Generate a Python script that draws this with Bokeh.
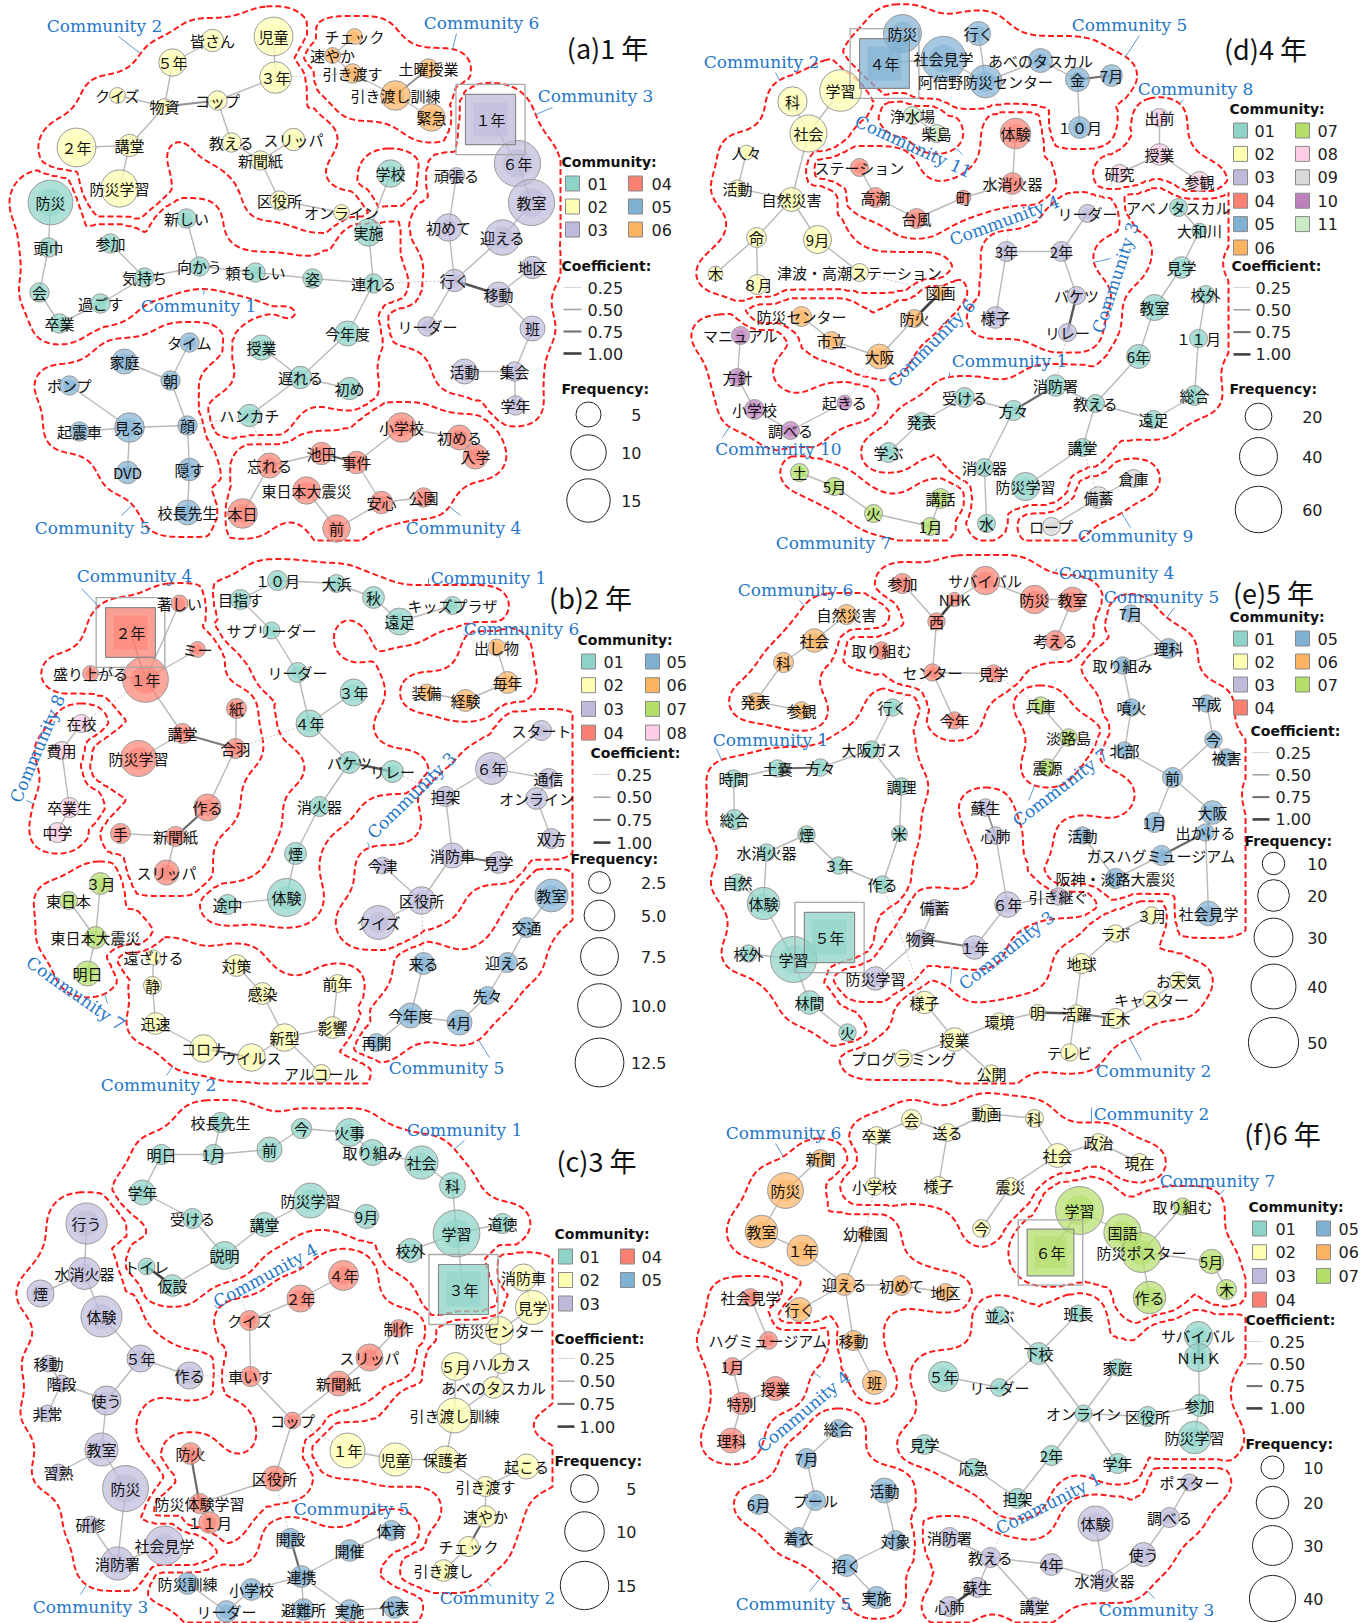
import math
import numpy as np
import contourpy
from bokeh.plotting import figure
from bokeh.models import Range1d, ColumnDataSource
from bokeh.embed import file_html
from bokeh.resources import INLINE
from bokeh.core.properties import value

W, H = 1369, 1623
COMMUNITY_COLORS = ["#8DD3C7", "#FFFFB3", "#BEBADA", "#FB8072", "#80B1D3", "#FDB462",
                    "#B3DE69", "#FCCDE5", "#D9D9D9", "#BC80BD", "#CCEBC5"]
COEF_TICKS = [0.25, 0.50, 0.75, 1.00]

# ================= (a) 1年 =================
A_NODES = [("児童",2,12),("皆さん",2,4),("５年",2,6),("３年",2,8),("クイズ",2,2),("物資",2,2),("コップ",2,3),
           ("２年",2,12),("講堂",2,4),("教える",2,3),("スリッパ",2,4),("新聞紙",2,3),("防災学習",2,11),("区役所",2,3),("オンライン",2,2),
           ("チェック",6,2),("速やか",6,2),("引き渡す",6,3),("土曜授業",6,3),("引き渡し訓練",6,7),("緊急",6,6),
           ("１年",3,20),("６年",3,17),("教室",3,17),("頑張る",3,2),("初めて",3,6),("迎える",3,10),("地区",3,4),("行く",3,4),
           ("移動",3,5),("リーダー",3,3),("班",3,5),("活動",3,5),("集会",3,3),("学年",3,3),
           ("防災",1,16),("頭巾",1,3),("参加",1,3),("新しい",1,3),("学校",1,6),("実施",1,6),("気持ち",1,3),("向かう",1,3),
           ("頼もしい",1,3),("姿",1,3),("連れる",1,3),("会",1,3),("過ごす",1,3),("卒業",1,3),("今年度",1,5),("授業",1,5),
           ("遅れる",1,4),("初め",1,4),("ハンカチ",1,4),
           ("タイム",5,3),("家庭",5,5),("朝",5,3),("ポンプ",5,3),("見る",5,7),("顔",5,3),("起震車",5,3),("DVD",5,4),("隠す",5,4),("校長先生",5,5),
           ("小学校",4,7),("初める",4,5),("入学",4,5),("池田",4,4),("事件",4,4),("忘れる",4,5),("東日本大震災",4,6),("安心",4,4),
           ("公園",4,3),("本日",4,7),("前",4,6)]
A_XY = [(273,36),(212,40),(172,62),(275,77),(117,95),(164,106),(217,100),(76,147),(129,145),(231,142),(293,139),(260,160),
        (119,188),(279,200),(341,212),
        (354,36),(332,55),(352,73),(428,68),(395,95),(431,117),
        (490,119),(517,163),(531,202),(456,175),(448,227),(502,237),(532,267),(454,280),(498,294),(427,326),(532,328),
        (464,371),(514,371),(515,405),
        (50,202),(48,247),(110,243),(186,218),(390,173),(368,232),(144,277),(199,266),(255,272),(312,278),(373,283),
        (39,292),(100,303),(59,323),(347,333),(261,347),(300,377),(349,388),(249,415),
        (189,342),(124,361),(170,380),(69,385),(129,427),(187,425),(79,431),(127,472),(189,469),(187,512),
        (401,427),(459,437),(475,456),(321,453),(356,462),(269,465),(306,490),(381,502),(423,497),(242,513),(336,528)]
A_EDGES = [("皆さん","５年"),("児童","３年"),("５年","物資"),("クイズ","物資"),("物資","コップ",0.6),("コップ","３年"),
           ("コップ","教える"),("教える","新聞紙"),("スリッパ","新聞紙"),("新聞紙","区役所"),("区役所","オンライン"),
           ("物資","講堂"),("２年","講堂"),("講堂","防災学習"),
           ("チェック","速やか"),("速やか","引き渡す"),("引き渡す","引き渡し訓練"),("土曜授業","引き渡し訓練",0.6),("引き渡し訓練","緊急"),
           ("１年","６年"),("６年","教室"),("教室","迎える"),("迎える","行く"),("頑張る","初めて"),("初めて","行く"),
           ("行く","移動",0.9),("移動","地区"),("行く","リーダー"),("移動","班"),("班","集会"),("活動","集会"),("集会","学年"),
           ("防災","頭巾"),("頭巾","会"),("会","卒業"),("卒業","過ごす"),("過ごす","気持ち"),("参加","気持ち"),("気持ち","向かう"),
           ("新しい","向かう"),("向かう","頼もしい"),("頼もしい","姿"),("姿","連れる"),("学校","実施"),("実施","連れる"),
           ("連れる","今年度"),("今年度","遅れる"),("授業","遅れる"),("遅れる","初め"),("遅れる","ハンカチ"),
           ("タイム","朝"),("家庭","朝"),("朝","顔"),("ポンプ","見る"),("起震車","見る"),("見る","顔"),("見る","DVD"),
           ("顔","隠す"),("隠す","校長先生"),
           ("小学校","初める"),("初める","入学"),("小学校","事件"),("池田","事件",0.8),("忘れる","池田"),("事件","安心"),
           ("安心","公園"),("安心","前"),("前","東日本大震災"),("忘れる","本日"),
           ("３年","引き渡す"),("オンライン","実施"),("連れる","行く"),("顔","ハンカチ"),("ハンカチ","忘れる")]
A_FOCUS = "１年"
A_CLABELS = [("Community 2",2),("Community 6",6),("Community 3",3),("Community 1",1),("Community 5",5),("Community 4",4)]
A_CLPOS = [(104,25,0,118,36),(481,22,0,456,33),(595,95,0,552,107),(198,305,0,203,294),(92,527,0,121,515),(463,527,0,460,515)]
A_FREQ_TICKS = [5, 10, 15]

# ================= (d) 4年 =================
D_NODES = [("防災",5,40),("行く",5,16),("４年",5,69),("社会見学",5,55),("阿倍野防災センター",5,30),("あべのタスカル",5,16),
           ("金",5,16),("7月",5,13),("１０月",5,13),
           ("学習",2,48),("科",2,24),("社会",2,38),("人々",2,6),("活動",2,8),("自然災害",2,16),("命",2,11),("9月",2,22),
           ("木",2,6),("８月",2,11),("津波・高潮ステーション",2,9),
           ("浄水場",11,9),("柴島",11,9),
           ("体験",4,26),("水消火器",4,13),("町",4,6),("台風",4,11),("高潮",4,11),("ステーション",4,9),
           ("出前",8,9),("授業",8,13),("研究",8,9),("参観",8,11),
           ("リーダー",3,9),("3年",3,11),("2年",3,11),("様子",3,13),("バケツ",3,9),("リレー",3,9),
           ("アベノタスカル",1,9),("大和川",1,6),("見学",1,13),("教室",1,19),("校外",1,9),("１１月",1,9),("6年",1,16),
           ("総合",1,11),("消防署",1,13),("教える",1,9),("遠足",1,9),("受ける",1,11),("方々",1,11),("発表",1,9),("学ぶ",1,11),
           ("講堂",1,9),("消火器",1,9),("防災学習",1,22),("水",1,9),
           ("倉庫",9,9),("備蓄",9,13),("ロープ",9,9),
           ("土",7,9),("5月",7,9),("火",7,9),("講話",7,11),("1月",7,9),
           ("図画",6,6),("防災センター",6,11),("防火",6,9),("市立",6,9),("大阪",6,17),
           ("マニュアル",10,9),("方針",10,9),("小学校",10,11),("起きる",10,6),("調べる",10,9)]
D_XY = [(902,33),(978,33),(884,63),(943,58),(985,81),(1040,60),(1077,79),(1111,75),(1079,127),
        (840,90),(792,101),(808,133),(746,152),(737,188),(791,199),(756,237),(817,239),(715,273),(757,284),(859,272),
        (912,115),(936,133),
        (1015,133),(1012,183),(963,197),(916,218),(875,197),(859,167),
        (1159,117),(1159,154),(1119,173),(1199,181),
        (1087,213),(1006,251),(1061,251),(995,317),(1076,295),(1067,332),
        (1178,207),(1199,230),(1181,267),(1154,307),(1205,294),(1198,338),(1138,356),(1194,395),(1055,385),(1095,403),
        (1153,419),(964,397),(1013,410),(921,421),(888,452),(1082,447),(984,467),(1025,486),(986,523),
        (1133,478),(1098,497),(1051,526),
        (799,472),(834,486),(873,513),(940,498),(930,526),
        (940,292),(801,316),(914,318),(831,340),(879,356),
        (740,335),(737,377),(754,409),(844,402),(790,430)]
D_EDGES = [("防災","４年"),("４年","社会見学"),("行く","阿倍野防災センター"),("社会見学","阿倍野防災センター"),
           ("阿倍野防災センター","あべのタスカル"),("あべのタスカル","金"),("金","7月",0.8),("金","１０月"),
           ("学習","社会"),("科","社会"),("社会","自然災害"),("人々","活動"),("活動","自然災害"),("自然災害","命"),
           ("自然災害","9月"),("命","８月"),("命","木"),("9月","津波・高潮ステーション"),
           ("浄水場","柴島"),
           ("ステーション","高潮"),("高潮","台風"),("台風","町"),("町","水消火器"),("水消火器","体験"),
           ("出前","授業"),("授業","研究"),("授業","参観"),
           ("リーダー","2年"),("3年","2年"),("2年","バケツ"),("バケツ","リレー",0.9),("3年","様子"),
           ("アベノタスカル","大和川"),("大和川","見学"),("見学","教室"),("教室","6年"),("校外","１１月"),("１１月","総合"),
           ("総合","遠足"),("遠足","教える"),("教える","消防署"),("消防署","方々",0.8),("方々","受ける"),("受ける","発表"),
           ("発表","学ぶ"),("方々","消火器"),("消火器","水"),("教える","講堂"),("講堂","防災学習"),("6年","教える"),
           ("倉庫","備蓄"),("備蓄","ロープ"),
           ("土","5月"),("5月","火"),("火","1月"),("講話","1月"),
           ("図画","防火",1.0),("防火","大阪"),("防災センター","市立"),("市立","大阪"),
           ("マニュアル","方針"),("方針","小学校"),("小学校","調べる"),("調べる","起きる"),
           ("阿倍野防災センター","体験"),("水消火器","3年"),("研究","リーダー"),("津波・高潮ステーション","図画"),
           ("大阪","起きる"),("リレー","消防署"),("講話","消火器"),("講堂","備蓄")]
D_FOCUS = "４年"
D_CLABELS = [("Community 5",5),("Community 2",2),("Community 8",8),("Community 11",11),("Community 4",4),("Community 3",3),
             ("Community 6",6),("Community 1",1),("Community 10",10),("Community 7",7),("Community 9",9)]
D_CLPOS = [(1129,24,0,1139,35),(761,61,0,775,72),(1195,88,0,1183,99),(913,146,-24.6,962,154),(1004,220,20,996,210),
           (1115,277,72,1110,258),(931,343,45,884,380),(1009,360,0,949,372),(778,448,0,722,437),(833,542,0,None,None),
           (1135,535,0,1130,527)]
D_FREQ_TICKS = [20, 40, 60]

# ================= (b) 2年 =================
B_NODES = [("１０月",1,2.1),("大浜",1,1.7),("秋",1,2.5),("キッズプラザ",1,1.7),("遠足",1,3.8),("目指す",1,2.1),
           ("サプリーダー",1,1.5),("リーダー",1,2.1),("３年",1,3.8),("４年",1,3.8),("バケツ",1,2.5),("リレー",1,2.5),
           ("消火器",1,2.1),("煙",1,2.5),("体験",1,7.6),("途中",1,2.1),
           ("２年",4,13),("１年",4,11),("著しい",4,1.5),("ミー",4,1.3),("盛り上がる",4,1.3),("紙",4,2.1),("講堂",4,2.1),
           ("合羽",4,2.1),("防災学習",4,6.8),("作る",4,3.8),("手",4,2.1),("新聞紙",4,2.1),("スリッパ",4,3.3),
           ("在校",8,1.7),("費用",8,1.7),("卒業生",8,2.1),("中学",8,2.1),
           ("出し物",6,1.5),("毎年",6,2.5),("経験",6,2.5),("装備",6,1.5),
           ("スタート",3,2.1),("６年",3,5.4),("通信",3,2.1),("オンライン",3,2.5),("担架",3,2.1),("双方",3,2.1),
           ("今津",3,1.5),("消防車",3,3.3),("見学",3,2.5),("区役所",3,4),("クイズ",3,6),
           ("教室",5,5.7),("交通",5,2.1),("迎える",5,2.1),("来る",5,2.5),("先々",5,1.7),("今年度",5,3.3),("4月",5,3.3),("再開",5,1.7),
           ("３月",7,2.5),("東日本",7,1.7),("東日本大震災",7,2.5),("明日",7,3.3),
           ("遠ざける",2,1.2),("静",2,1.7),("対策",2,2.5),("感染",2,2.5),("前年",2,1.7),("迅速",2,2.5),("コロナ",2,4),
           ("ウイルス",2,4),("新型",2,4),("影響",2,2.5),("アルコール",2,1.7)]
B_XY = [(277,580),(336,583),(373,597),(452,605),(399,621),(240,599),(271,630),(297,672),(353,692),(309,723),(349,762),
        (392,771),(319,806),(295,853),(286,897),(227,904),
        (130,632),(145,679),(179,603),(197,649),(90,673),(236,708),(182,733),(235,748),(138,758),(207,807),(120,833),
        (175,836),(166,872),
        (81,723),(61,750),(69,807),(57,832),
        (496,647),(507,682),(465,700),(426,692),
        (541,730),(491,768),(548,778),(536,798),(445,796),(551,838),(382,865),(452,855),(498,862),(421,900),(378,922),
        (551,895),(526,927),(507,962),(423,963),(487,995),(410,1015),(459,1022),(376,1042),
        (100,883),(68,900),(95,937),(87,973),
        (153,957),(152,985),(236,965),(262,993),(337,983),(155,1023),(203,1048),(251,1057),(284,1037),(332,1027),(321,1073)]
B_EDGES = [("１０月","大浜"),("大浜","秋"),("秋","遠足"),("遠足","キッズプラザ"),("１０月","目指す"),("目指す","サプリーダー"),
           ("サプリーダー","リーダー"),("リーダー","４年"),("３年","４年"),("４年","バケツ"),("バケツ","リレー",0.9),
           ("バケツ","消火器"),("消火器","煙"),("煙","体験"),("体験","途中"),
           ("２年","１年",0.5),("著しい","１年"),("ミー","１年"),("盛り上がる","１年"),("１年","講堂"),("講堂","合羽",0.7),
           ("紙","合羽"),("講堂","防災学習"),("合羽","作る"),("作る","新聞紙",0.8),("手","新聞紙"),("新聞紙","スリッパ"),
           ("在校","費用"),("費用","卒業生"),("卒業生","中学"),
           ("出し物","毎年"),("毎年","経験"),("経験","装備"),
           ("スタート","６年"),("６年","通信"),("通信","オンライン"),("オンライン","双方"),("６年","担架"),("担架","消防車"),
           ("消防車","見学",0.8),("消防車","区役所"),("今津","区役所"),("区役所","クイズ"),
           ("教室","交通"),("交通","迎える"),("迎える","先々"),("先々","4月"),("4月","今年度"),("今年度","来る"),("今年度","再開"),
           ("３月","東日本大震災"),("東日本","東日本大震災"),("東日本大震災","明日"),
           ("遠ざける","静"),("静","迅速"),("迅速","コロナ"),("コロナ","ウイルス",0.8),("ウイルス","新型"),("新型","影響"),
           ("対策","感染"),("感染","新型"),("前年","影響"),("新型","アルコール"),
           ("１年","在校"),("合羽","４年"),("リレー","担架"),("区役所","来る"),("影響","再開")]
B_FOCUS = "２年"
B_CLABELS = [("Community 4",4),("Community 1",1),("Community 6",6),("Community 8",8),("Community 3",3),
             ("Community 7",7),("Community 2",2),("Community 5",5)]
B_CLPOS = [(134,575,0,81,588),(488,577,0,428,578),(521,628,0,463,634),(37,748,67,26,800),(411,795,44,367,842),
           (75,993,-35,107,1003),(158,1084,0,166,1075),(446,1067,0,489,1057)]
B_FREQ_TICKS = [2.5, 5.0, 7.5, 10.0, 12.5]

# ================= (e) 5年 =================
E_NODES = [("参加",4,8),("サバイバル",4,16),("NHK",4,4),("西",4,6),("防災",4,16),("教室",4,12),("考える",4,8),
           ("取り組む",4,6),("センター",4,6),("見学",4,6),("今年",4,6),
           ("自然災害",6,8),("社会",6,11),("科",6,8),("発表",6,6),("参観",6,6),
           ("7月",5,6),("理科",5,8),("取り組み",5,6),("噴火",5,6),("平成",5,6),("今",5,6),("被害",5,6),("北部",5,6),
           ("前",5,8),("1月",5,8),("大阪",5,11),("出かける",5,6),("活動",5,6),("ガスハグミュージアム",5,8),
           ("阪神・淡路大震災",5,8),("社会見学",5,12),
           ("兵庫",7,6),("淡路島",7,6),("震源",7,6),
           ("行く",1,6),("大阪ガス",1,6),("時間",1,6),("土嚢",1,6),("方々",1,6),("調理",1,6),("総合",1,8),("煙",1,6),
           ("米",1,5),("水消火器",1,6),("３年",1,6),("作る",1,6),("自然",1,6),("体験",1,21),("学習",1,42),("５年",1,50),
           ("校外",1,6),("林間",1,11),("火",1,6),
           ("蘇生",3,6),("心肺",3,6),("６年",3,13),("引き継ぐ",3,6),("備蓄",3,5),("物資",3,6),("１年",3,11),("防災学習",3,11),
           ("３月",2,6),("ラボ",2,6),("地球",2,8),("お天気",2,6),("キャスター",2,6),("様子",2,10),("正木",2,8),("活躍",2,6),
           ("明",2,5),("環境",2,6),("授業",2,11),("テレビ",2,6),("プログラミング",2,6),("公開",2,6)]
E_XY = [(902,583),(985,580),(954,599),(936,621),(1034,599),(1072,599),(1055,640),(881,650),(932,672),(993,673),(954,720),
        (846,614),(814,640),(783,662),(755,701),(801,710),
        (1130,613),(1168,648),(1122,665),(1131,707),(1206,703),(1213,739),(1226,757),(1124,750),(1172,777),(1154,822),
        (1212,812),(1205,832),(1082,835),(1161,855),(1115,878),(1208,913),
        (1040,705),(1068,737),(1047,767),
        (892,707),(871,749),(733,778),(777,768),(820,767),(901,786),(734,819),(806,834),(899,833),(766,852),(838,865),
        (882,884),(737,882),(763,903),(793,959),(829,937),(748,953),(809,1002),(847,1032),
        (985,807),(995,835),(1007,904),(1058,896),(934,907),(920,938),(974,947),(875,978),
        (1151,915),(1115,933),(1081,963),(1178,980),(1151,999),(924,1002),(1115,1018),(1076,1013),(1037,1012),(999,1021),
        (954,1039),(1069,1052),(903,1058),(991,1073)]
E_EDGES = [("参加","西"),("NHK","西",1.0),("NHK","サバイバル"),("サバイバル","防災"),("防災","教室"),("教室","考える"),
           ("西","センター"),("センター","見学"),("センター","今年"),
           ("自然災害","社会"),("社会","科"),("科","発表"),("発表","参観"),
           ("7月","理科"),("理科","取り組み"),("取り組み","噴火"),("噴火","北部"),("北部","前"),("前","今"),("今","平成"),
           ("今","被害"),("前","1月"),("前","大阪"),("大阪","出かける"),("出かける","ガスハグミュージアム",0.8),
           ("活動","阪神・淡路大震災"),("ガスハグミュージアム","阪神・淡路大震災"),("出かける","社会見学"),
           ("兵庫","淡路島"),("淡路島","震源"),
           ("行く","大阪ガス"),("大阪ガス","方々"),("方々","土嚢",0.8),("土嚢","時間"),("時間","総合"),("大阪ガス","調理"),
           ("調理","米"),("米","作る"),("作る","３年"),("３年","煙"),("煙","水消火器"),("水消火器","体験"),("自然","体験"),
           ("体験","学習"),("学習","５年"),("学習","校外"),("学習","林間"),("林間","火"),
           ("蘇生","心肺",0.6),("心肺","６年"),("６年","引き継ぐ"),("６年","１年"),("１年","物資",0.7),("物資","備蓄"),
           ("物資","防災学習"),
           ("３月","ラボ"),("ラボ","地球"),("地球","テレビ"),("明","活躍",0.9),("活躍","正木",0.7),("明","環境"),
           ("環境","授業"),("授業","様子"),("授業","プログラミング"),("授業","公開"),("正木","キャスター"),("キャスター","お天気"),
           ("自然災害","取り組む"),("行く","センター"),("見学","兵庫"),("淡路島","北部"),("作る","様子")]
E_FOCUS = "５年"
E_CLABELS = [("Community 6",6),("Community 4",4),("Community 5",5),("Community 1",1),("Community 7",7),
             ("Community 3",3),("Community 2",2)]
E_CLPOS = [(795,589,0,799,600),(1116,572,0,1056,568),(1161,596,0,1174,607),(770,739,0,716,748),(1060,787,37.6,1028,800),
           (1006,950,38,950,983),(1153,1070,0,1141,1060)]
E_FREQ_TICKS = [10, 20, 30, 40, 50]

# ================= (c) 3年 =================
C_NODES = [("校長先生",1,2.6),("今",1,2.6),("火事",1,5),("取り組み",1,4.3),("明日",1,2.6),("1月",1,2.6),("前",1,4),
           ("社会",1,7),("科",1,4.3),("学年",1,4),("受ける",1,2.6),("防災学習",1,7.8),("9月",1,3.7),("講堂",1,3.7),
           ("道徳",1,2.6),("学習",1,14),("校外",1,3.7),("説明",1,5),("トイレ",1,1.8),("仮設",1,3),("３年",1,16),
           ("行う",3,10.8),("水消火器",3,6.6),("煙",3,4.7),("体験",3,10.8),("移動",3,1.8),("５年",3,4.7),("作る",3,4.7),
           ("階段",3,1.8),("使う",3,5.4),("非常",3,1.8),("教室",3,7),("習熟",3,1.8),("防災",3,13.5),("研修",3,1.8),
           ("社会見学",3,9.7),("消防署",3,7),
           ("４年",4,5.8),("２年",4,4.7),("クイズ",4,2.6),("制作",4,2),("スリッパ",4,4.7),("車いす",4,2.6),("新聞紙",4,4),
           ("コップ",4,1.8),("防火",4,3),("区役所",4,4),("防災体験学習",4,2.6),("１１月",4,3),
           ("開設",5,2.6),("体育",5,2.6),("開催",5,3),("連携",5,3),("防災訓練",5,3),("小学校",5,3),("リーダー",5,3),
           ("避難所",5,3),("実施",5,3),("代表",5,3),
           ("消防車",2,4.7),("見学",2,7.4),("防災センター",2,5),("ハルカス",2,2.6),("５月",2,5),("あべのタスカル",2,3),
           ("引き渡し訓練",2,7.8),("１年",2,7.8),("児童",2,7),("保護者",2,4.7),("起こる",2,4),("引き渡す",2,2.6),
           ("速やか",2,3),("チェック",2,2.6),("引き渡し",2,3)]
C_XY = [(220,1122),(301,1128),(349,1132),(372,1152),(161,1154),(213,1154),(269,1149),(421,1162),(452,1185),(142,1192),
        (192,1218),(310,1200),(366,1216),(264,1224),(502,1223),(456,1233),(410,1250),(224,1255),(146,1266),(172,1285),(463,1289),
        (86,1223),(84,1273),(40,1293),(101,1316),(48,1363),(140,1358),(189,1375),(61,1383),(106,1400),(47,1413),(101,1449),
        (58,1472),(125,1488),(90,1524),(164,1545),(117,1563),
        (343,1275),(300,1298),(249,1320),(398,1328),(369,1357),(250,1376),(338,1383),(292,1420),(190,1453),(274,1478),
        (199,1503),(209,1522),
        (290,1538),(391,1530),(349,1550),(301,1576),(187,1583),(251,1589),(226,1611),(303,1609),(349,1610),(394,1607),
        (523,1277),(532,1307),(499,1330),(501,1363),(455,1366),(493,1387),(454,1415),(347,1450),(395,1459),(445,1459),
        (526,1466),(485,1486),(485,1516),(468,1546),(443,1570)]
C_EDGES = [("校長先生","1月"),("明日","1月"),("1月","前"),("前","今"),("今","火事"),("火事","取り組み"),("取り組み","社会"),
           ("社会","科"),("科","学習"),("学習","道徳"),("学習","校外"),("学習","３年"),("明日","学年"),("学年","受ける"),
           ("受ける","説明"),("説明","講堂"),("講堂","防災学習"),("防災学習","9月"),("説明","仮設"),("トイレ","仮設",1.0),
           ("行う","水消火器"),("水消火器","煙"),("水消火器","体験"),("体験","５年"),("５年","作る"),("５年","使う"),
           ("階段","使う"),("移動","階段"),("非常","階段"),("使う","教室"),("教室","習熟"),("教室","防災"),("防災","消防署"),
           ("研修","消防署"),("消防署","社会見学"),
           ("４年","２年"),("２年","クイズ"),("クイズ","車いす"),("車いす","コップ"),("制作","スリッパ"),("スリッパ","新聞紙"),
           ("新聞紙","コップ"),("コップ","区役所"),("区役所","防災体験学習"),("防火","防災体験学習",0.8),("防災体験学習","１１月"),
           ("開設","連携",0.8),("体育","開催"),("開催","連携"),("連携","小学校"),("防災訓練","リーダー"),("小学校","リーダー"),
           ("連携","避難所"),("連携","実施"),("実施","代表"),
           ("消防車","見学"),("見学","防災センター"),("防災センター","ハルカス"),("ハルカス","あべのタスカル"),
           ("５月","引き渡し訓練"),("あべのタスカル","引き渡し訓練"),("引き渡し訓練","保護者"),("１年","児童"),("児童","保護者"),
           ("保護者","引き渡す"),("引き渡す","起こる"),("引き渡す","速やか"),("速やか","チェック",0.8),("チェック","引き渡し"),
           ("説明","クイズ"),("作る","車いす"),("コップ","１年"),("区役所","開設")]
C_FOCUS = "３年"
C_CLABELS = [("Community 1",1),("Community 4",4),("Community 3",3),("Community 5",5),("Community 2",2)]
C_CLPOS = [(464,1129,0,464,1140),(265,1275,28.5,214,1305),(90,1606,0,80,1594),(351,1508,0,None,None),(497,1597,0,491,1586)]
C_FREQ_TICKS = [5, 10, 15]

# ================= (f) 6年 =================
F_NODES = [("会",2,7.5),("卒業",2,6),("送る",2,6),("動画",2,6),("科",2,6),("政治",2,6),("社会",2,10.8),("現在",2,6),
           ("小学校",2,6),("様子",2,6),("震災",2,6),("今",2,6),
           ("学習",7,43),("取り組む",7,5.5),("国語",7,26),("防災ポスター",7,30),("5月",7,11),("木",7,7.5),("作る",7,20),("６年",7,41),
           ("新聞",6,6),("防災",6,24),("教室",6,20),("１年",6,18),("幼稚園",6,4),("迎える",6,9),("初めて",6,7.5),("地区",6,6),
           ("行く",6,10.8),("移動",6,7.5),("班",6,10.8),
           ("社会見学",4,6),("ハグミュージアム",4,6),("1月",4,6),("授業",4,10.8),("特別",4,9),("理科",4,11.7),
           ("並ぶ",1,6),("班長",1,5.5),("下校",1,9),("サバイバル",1,15),("ＮＨＫ",1,15),("家庭",1,5.5),("５年",1,17),
           ("リーダー",1,6),("オンライン",1,5.5),("区役所",1,7.5),("参加",1,9),("防災学習",1,20),("見学",1,7.5),("応急",1,6),
           ("2年",1,7.5),("学年",1,7.5),("担架",1,7.5),
           ("総合",5,6),("7月",5,7.5),("活動",5,11.7),("6月",5,7.5),("プール",5,7.5),("着衣",5,7.5),("対象",5,7.5),
           ("招く",5,9),("実施",5,9),
           ("ポスター",3,5.5),("調べる",3,7.5),("体験",3,23),("使う",3,10.8),("消防署",3,7.5),("教える",3,7.5),("4年",3,9),
           ("水消火器",3,9),("蘇生",3,7.5),("心肺",3,7.5),("講堂",3,6)]
F_XY = [(911,1119),(876,1135),(947,1132),(986,1113),(1034,1118),(1098,1142),(1057,1155),(1139,1162),(874,1186),(938,1185),
        (1010,1186),(981,1228),
        (1079,1210),(1182,1206),(1122,1232),(1141,1252),(1211,1261),(1226,1289),(1149,1297),(1050,1252),
        (820,1158),(785,1190),(761,1231),(802,1250),(865,1233),(844,1284),(901,1285),(945,1292),(799,1309),(853,1340),(874,1382),
        (750,1297),(768,1340),(732,1366),(775,1388),(741,1403),(731,1440),
        (999,1315),(1078,1313),(1038,1353),(1198,1335),(1198,1357),(1117,1367),(943,1376),(999,1387),(1083,1413),(1147,1416),
        (1199,1405),(1194,1437),(924,1444),(973,1467),(1051,1455),(1117,1463),(1017,1498),
        (838,1428),(806,1458),(884,1490),(758,1504),(815,1500),(798,1537),(895,1540),(846,1565),(876,1597),
        (1189,1482),(1169,1517),(1095,1523),(1143,1554),(949,1537),(990,1557),(1051,1564),(1104,1580),(977,1587),(949,1606),(1034,1606)]
F_EDGES = [("卒業","会"),("会","送る"),("送る","動画"),("動画","科"),("科","社会"),("社会","政治"),("政治","現在"),
           ("卒業","小学校"),("送る","様子"),("社会","震災"),("震災","今"),
           ("学習","６年"),("学習","国語"),("国語","防災ポスター"),("取り組む","防災ポスター"),("防災ポスター","5月"),("5月","木"),
           ("防災ポスター","作る"),
           ("新聞","防災"),("防災","教室"),("教室","１年"),("１年","迎える"),("迎える","行く"),("迎える","初めて"),("初めて","地区"),
           ("幼稚園","迎える"),("迎える","移動"),("移動","班"),
           ("社会見学","ハグミュージアム"),("ハグミュージアム","1月"),("1月","特別"),("授業","特別"),("特別","理科"),
           ("並ぶ","下校"),("班長","下校"),("下校","リーダー"),("リーダー","５年"),("下校","オンライン"),("家庭","オンライン"),
           ("オンライン","区役所"),("区役所","参加"),("参加","ＮＨＫ"),("サバイバル","ＮＨＫ",1.0),("参加","防災学習"),
           ("オンライン","2年"),("オンライン","学年"),("2年","担架"),("応急","担架"),("見学","応急"),
           ("総合","7月"),("7月","プール"),("プール","着衣"),("6月","着衣"),("着衣","招く"),("招く","対象"),("対象","活動"),
           ("招く","実施"),
           ("ポスター","調べる"),("調べる","使う"),("使う","水消火器"),("体験","水消火器"),("4年","水消火器"),("教える","4年"),
           ("消防署","教える"),("教える","蘇生"),("蘇生","心肺",1.0),("教える","講堂"),
           ("社会","学習"),("幼稚園","小学校"),("地区","並ぶ"),("対象","消防署"),("担架","教える")]
F_FOCUS = "６年"
F_CLABELS = [("Community 6",6),("Community 2",2),("Community 7",7),("Community 4",4),("Community 1",1),
             ("Community 5",5),("Community 3",3)]
F_CLPOS = [(783,1132,0,775,1143),(1151,1113,0,1091,1107),(1217,1180,0,1224,1189),(803,1411,40,820,1377),
           (1048,1503,27,997,1517),(793,1603,0,809,1591),(1156,1609,0,1154,1598)]
F_FREQ_TICKS = [10, 20, 30, 40]

# ---------------- panel layout (positions / scales / styles) ----------------
PANELS = [
    dict(tag="(a)1 年", nodes=A_NODES, xy=A_XY, edges=A_EDGES, focus=A_FOCUS, clabels=A_CLABELS, clpos=A_CLPOS,
         freq=A_FREQ_TICKS, ncomm=6, k=11.2, bounds=(0, 560, 0, 541), title=(607, 47),
         leg=dict(ch=(561, 161), sq=(572, 635), lab=(587, 651), row0=183, rstep=23.0, kh=(561, 265), kx=(563, 581),
                  ky0=287, kstep=22.0, kl=587, fh=(561, 388), fx=588, fy=(414, 452, 500), fl=641)),
    dict(tag="(d)4 年", nodes=D_NODES, xy=D_XY, edges=D_EDGES, focus=D_FOCUS, clabels=D_CLABELS, clpos=D_CLPOS,
         freq=D_FREQ_TICKS, ncomm=11, k=6.0, bounds=(685, 1228, 0, 541), title=(1265, 48),
         leg=dict(ch=(1229, 108), sq=(1240, 1302), lab=(1254, 1317), row0=130, rstep=23.4, kh=(1231, 265), kx=(1233, 1250),
                  ky0=287, kstep=22.3, kl=1255, fh=(1229, 388), fx=1258, fy=(416, 456, 509), fl=1322)),
    dict(tag="(b)2 年", nodes=B_NODES, xy=B_XY, edges=B_EDGES, focus=B_FOCUS, clabels=B_CLABELS, clpos=B_CLPOS,
         freq=B_FREQ_TICKS, ncomm=8, k=13.8, bounds=(0, 572, 541, 1084), title=(590, 597),
         leg=dict(ch=(577, 639), sq=(588, 652), lab=(603, 666), row0=661, rstep=23.7, kh=(590, 752), kx=(593, 610),
                  ky0=774, kstep=22.7, kl=616, fh=(570, 858), fx=599, fy=(882, 915, 956, 1005, 1062), fl=666)),
    dict(tag="(e)5 年", nodes=E_NODES, xy=E_XY, edges=E_EDGES, focus=E_FOCUS, clabels=E_CLABELS, clpos=E_CLPOS,
         freq=E_FREQ_TICKS, ncomm=7, k=7.1, bounds=(685, 1245, 541, 1084), title=(1273, 592),
         leg=dict(ch=(1229, 616), sq=(1240, 1302), lab=(1254, 1317), row0=638, rstep=23.0, kh=(1250, 730), kx=(1252, 1269),
                  ky0=752, kstep=22.3, kl=1275, fh=(1244, 840), fx=1273, fy=(863, 895, 937, 986, 1042), fl=1327)),
    dict(tag="(c)3 年", nodes=C_NODES, xy=C_XY, edges=C_EDGES, focus=C_FOCUS, clabels=C_CLABELS, clpos=C_CLPOS,
         freq=C_FREQ_TICKS, ncomm=5, k=12.5, bounds=(0, 552, 1084, 1623), title=(596, 1160),
         leg=dict(ch=(554, 1233), sq=(565, 627), lab=(579, 641), row0=1256, rstep=23.5, kh=(554, 1338), kx=(557, 574),
                  ky0=1358, kstep=22.7, kl=579, fh=(554, 1460), fx=584, fy=(1488, 1531, 1585), fl=636)),
    dict(tag="(f)6 年", nodes=F_NODES, xy=F_XY, edges=F_EDGES, focus=F_FOCUS, clabels=F_CLABELS, clpos=F_CLPOS,
         freq=F_FREQ_TICKS, ncomm=7, k=7.3, bounds=(685, 1245, 1084, 1623), title=(1282, 1133),
         leg=dict(ch=(1248, 1206), sq=(1259, 1323), lab=(1275, 1338), row0=1228, rstep=23.7, kh=(1245, 1319), kx=(1246, 1262),
                  ky0=1341, kstep=22.3, kl=1269, fh=(1245, 1443), fx=1272, fy=(1467, 1502, 1545, 1598), fl=1323)),
]

LABEL_FS = 15
JP = value("Noto Sans CJK JP")
SANS = value("DejaVu Sans")
SERIF = value("DejaVu Serif")
CLABEL_COLOR = "#2577C6"
OUTLINE_COLOR = "#FF1A1A"


def label_width(s, fs=LABEL_FS):
    w = 0.0
    for ch in s:
        w += fs if ord(ch) >= 0x2E80 else fs * 0.58
    return w


def coef_width(c):
    return 0.6 + 2.0 * c


def coef_color(c):
    g = int(round(215 - 150 * (c - 0.25) / 0.75))
    g = max(50, min(225, g))
    return "#%02x%02x%02x" % (g, g, g)


def seg_dist(X, Y, ax, ay, bx, by):
    dx, dy = bx - ax, by - ay
    L2 = dx * dx + dy * dy
    if L2 < 1e-9:
        return np.hypot(X - ax, Y - ay)
    t = np.clip(((X - ax) * dx + (Y - ay) * dy) / L2, 0.0, 1.0)
    return np.hypot(X - ax - t * dx, Y - ay - t * dy)


def blur(a, sig):
    r = max(1, int(3 * sig))
    k = np.exp(-0.5 * (np.arange(-r, r + 1) / sig) ** 2)
    k /= k.sum()
    pa = np.pad(a, ((r, r), (0, 0)))
    out = np.zeros_like(a)
    for i, w in enumerate(k):
        out += w * pa[i:i + a.shape[0], :]
    pb = np.pad(out, ((0, 0), (r, r)))
    out2 = np.zeros_like(a)
    for i, w in enumerate(k):
        out2 += w * pb[:, i:i + a.shape[1]]
    return out2


def point_in_poly(px, py, poly):
    x, y = poly[:, 0], poly[:, 1]
    x2, y2 = np.roll(x, -1), np.roll(y, -1)
    cond = ((y > py) != (y2 > py)) & (px < (x2 - x) * (py - y) / (y2 - y + 1e-12) + x)
    return np.count_nonzero(cond) % 2 == 1


def outlines(words, comms, xs, ys, diams, edges, bounds):
    # closing of a buffered skeleton (dilate R1, blur, high threshold), then split between communities
    STEP, R1, SIG, LEVEL, GAP, RAMP = 2.0, 33.0, 12.0, 0.85, 2.0, 6.0
    x0, x1, y0, y1 = bounds
    pad = 44
    gx = np.arange(x0 - pad, x1 + pad + STEP, STEP)
    gy = np.arange(y0 - pad, y1 + pad + STEP, STEP)
    X, Y = np.meshgrid(gx, gy)
    idx = {w: i for i, w in enumerate(words)}
    cl = sorted(set(comms))
    dists = []
    for c in cl:
        d = np.full(X.shape, 1e6)
        for i, w in enumerate(words):
            if comms[i] != c:
                continue
            hw = max(0.0, label_width(w) / 2 - 6)
            rr = max(0.0, diams[i] / 2 - 9)
            d = np.minimum(d, seg_dist(X, Y, xs[i] - hw, ys[i], xs[i] + hw, ys[i]) - rr)
        for e in edges:
            i, j = idx[e[0]], idx[e[1]]
            if comms[i] == c and comms[j] == c:
                d = np.minimum(d, seg_dist(X, Y, xs[i], ys[i], xs[j], ys[j]))
        dists.append(d)
    stack = np.array(dists)
    result = {}
    for n, c in enumerate(cl):
        if len(cl) > 1:
            other = np.min(np.delete(stack, n, axis=0), axis=0)
        else:
            other = np.full(X.shape, 1e6)
        dc = stack[n]
        F = blur((dc <= R1).astype(float), SIG / STEP)
        F = F * np.clip((other - dc - GAP) / RAMP, 0.0, 1.0)
        gen = contourpy.contour_generator(gx, gy, F, line_type="Separate")
        lines = [ln for ln in gen.lines(LEVEL) if len(ln) > 12]
        keep = []
        for a, ln in enumerate(lines):
            hole = False
            for b, ob in enumerate(lines):
                if a != b and len(ob) > len(ln) and point_in_poly(ln[0, 0], ln[0, 1], ob):
                    hole = True
                    break
            if not hole:
                ln = ln.copy()
                ln[:, 0] = np.clip(ln[:, 0], x0, x1)
                ln[:, 1] = np.clip(ln[:, 1], y0 + 1, y1 - 1)
                keep.append(ln)
        result[c] = keep
    return result


p = figure(width=W, height=H, x_range=Range1d(0, W), y_range=Range1d(H, 0), output_backend="svg",
           toolbar_location=None, x_axis_type=None, y_axis_type=None, min_border=0,
           outline_line_color=None, background_fill_color="white", border_fill_color="white")
p.xgrid.visible = False
p.ygrid.visible = False

for P in PANELS:
    words = [n[0] for n in P["nodes"]]
    comms = [n[1] for n in P["nodes"]]
    freqs = [n[2] for n in P["nodes"]]
    xs = [q[0] for q in P["xy"]]
    ys = [q[1] for q in P["xy"]]
    k = P["k"]
    diams = [k * math.sqrt(f) for f in freqs]
    idx = {w: i for i, w in enumerate(words)}
    colors = [COMMUNITY_COLORS[c - 1] for c in comms]

    # community outlines
    outl = outlines(words, comms, xs, ys, diams, P["edges"], P["bounds"])
    oxs, oys = [], []
    for c, lines in outl.items():
        for ln in lines:
            oxs.append(list(ln[:, 0]))
            oys.append(list(ln[:, 1]))
    p.multi_line(oxs, oys, line_color=OUTLINE_COLOR, line_width=2.0, line_dash="6 3")

    # edges
    sx, sy, sw, sc, dx_, dy_ = [], [], [], [], [], []
    for e in P["edges"]:
        a, b = idx[e[0]], idx[e[1]]
        coef = e[2] if len(e) > 2 else 0.4
        if comms[a] == comms[b]:
            sx.append([xs[a], xs[b]]); sy.append([ys[a], ys[b]])
            sw.append(coef_width(coef)); sc.append(coef_color(coef))
        else:
            dx_.append([xs[a], xs[b]]); dy_.append([ys[a], ys[b]])
    p.multi_line(xs="xs", ys="ys", line_width="w", line_color="c",
                 source=ColumnDataSource(dict(xs=sx, ys=sy, w=sw, c=sc)))
    p.multi_line(dx_, dy_, line_color="#c8c8c8", line_width=1.0, line_dash="2 2")

    # nodes
    circ = [i for i, w in enumerate(words) if w != P["focus"]]
    src = ColumnDataSource(dict(x=[xs[i] for i in circ], y=[ys[i] for i in circ],
                                d=[diams[i] for i in circ], d2=[diams[i] * 0.62 for i in circ],
                                c=[colors[i] for i in circ]))
    p.scatter("x", "y", size="d", marker="circle", fill_color="c", fill_alpha=0.7,
              line_color="#9a9a9a", line_width=1, source=src)
    p.scatter("x", "y", size="d2", marker="circle", fill_color="c", fill_alpha=0.55,
              line_color=None, source=src)
    fi = idx[P["focus"]]
    side = diams[fi]
    p.rect([xs[fi]], [ys[fi]], width=side * 1.38, height=side * 1.4, fill_color=None,
           line_color="#a8a8a8", line_width=1.3)
    p.scatter([xs[fi]], [ys[fi]], size=side, marker="square", fill_color=colors[fi], fill_alpha=0.75,
              line_color="#8a8a8a", line_width=1.2)
    p.scatter([xs[fi]], [ys[fi]], size=side * 0.68, marker="square", fill_color=colors[fi], fill_alpha=0.55,
              line_color=None)

    # node labels
    p.text(xs, ys, text=words, text_font=JP, text_font_size="15px", text_color="#111111",
           text_align="center", text_baseline="middle")

    # community labels + leaders
    lx, ly, lt, la = [], [], [], []
    leadx, leady = [], []
    for (txt, cid), pos in zip(P["clabels"], P["clpos"]):
        cx, cy, ang, sx0, sy0 = pos
        lx.append(cx); ly.append(cy); lt.append(txt); la.append(math.radians(ang))
        if sx0 is None or not outl.get(cid):
            continue
        pts = np.vstack(outl[cid])
        dd = np.hypot(pts[:, 0] - sx0, pts[:, 1] - sy0)
        j = int(np.argmin(dd))
        if dd[j] < 60:
            leadx.append([sx0, float(pts[j, 0])]); leady.append([sy0, float(pts[j, 1])])
    p.multi_line(leadx, leady, line_color="#5B9BD5", line_width=1.0)
    p.text(lx, ly, text=lt, angle=la, text_font=SERIF, text_font_size="17px", text_color=CLABEL_COLOR,
           text_align="center", text_baseline="middle")

    # title
    tx, ty = P["title"]
    p.text([tx], [ty], text=[P["tag"]], text_font=JP, text_font_size="27px", text_color="#111111",
           text_align="center", text_baseline="middle")

    # legend
    L = P["leg"]
    n = P["ncomm"]
    rows = (n + 1) // 2
    p.text([L["ch"][0]], [L["ch"][1]], text=["Community:"], text_font=SANS, text_font_style="bold",
           text_font_size="14px", text_color="#111111", text_align="left", text_baseline="middle")
    qx, qy, qc, qt, tx_ = [], [], [], [], []
    for c in range(n):
        col, row = (0, c) if c < rows else (1, c - rows)
        qx.append(L["sq"][col]); qy.append(L["row0"] + row * L["rstep"]); qc.append(COMMUNITY_COLORS[c])
        qt.append("%02d" % (c + 1)); tx_.append(L["lab"][col])
    p.rect(qx, qy, width=14, height=15, fill_color=qc, line_color="#8a8a8a", line_width=1)
    p.text(tx_, qy, text=qt, text_font=SANS, text_font_size="16px", text_color="#222222",
           text_align="left", text_baseline="middle")

    p.text([L["kh"][0]], [L["kh"][1]], text=["Coefficient:"], text_font=SANS, text_font_style="bold",
           text_font_size="14px", text_color="#111111", text_align="left", text_baseline="middle")
    ky = [L["ky0"] + i * L["kstep"] for i in range(len(COEF_TICKS))]
    p.segment([L["kx"][0]] * 4, ky, [L["kx"][1]] * 4, ky, line_width=[coef_width(c) for c in COEF_TICKS],
              line_color=[coef_color(c) for c in COEF_TICKS])
    p.text([L["kl"]] * 4, ky, text=["%.2f" % c for c in COEF_TICKS], text_font=SANS, text_font_size="16px",
           text_color="#222222", text_align="left", text_baseline="middle")

    p.text([L["fh"][0]], [L["fh"][1]], text=["Frequency:"], text_font=SANS, text_font_style="bold",
           text_font_size="14px", text_color="#111111", text_align="left", text_baseline="middle")
    fv = P["freq"]
    p.scatter([L["fx"]] * len(fv), list(L["fy"]), size=[k * math.sqrt(v) for v in fv], marker="circle",
              fill_color=None, line_color="#222222", line_width=1)
    ftxt = [("%.1f" % v) if isinstance(v, float) else str(v) for v in fv]
    p.text([L["fl"]] * len(fv), list(L["fy"]), text=ftxt, text_font=SANS, text_font_size="16px",
           text_color="#222222", text_align="right", text_baseline="middle")

open("out.html", "w").write(file_html(p, INLINE))
